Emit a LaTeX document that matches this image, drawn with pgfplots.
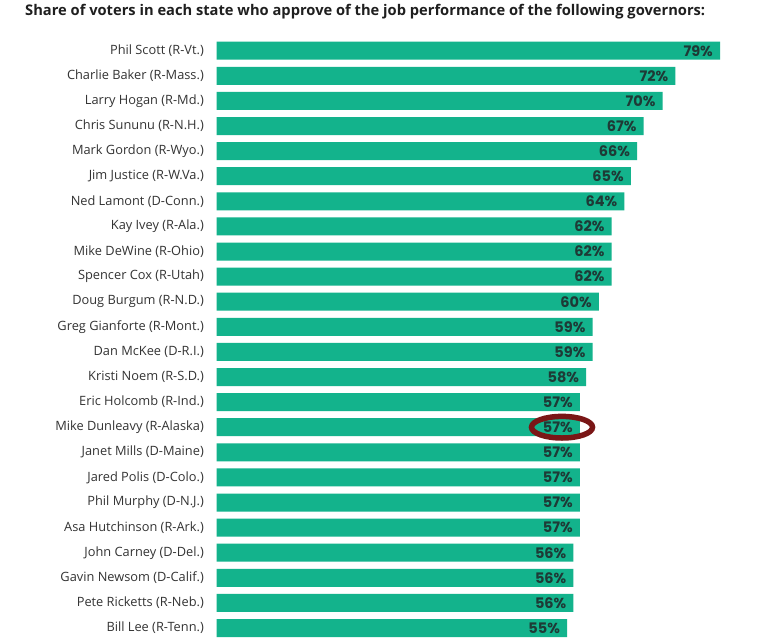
\documentclass[border=0pt]{standalone}
\usepackage{pgfplots}
\pgfplotsset{compat=1.18}
\usepackage{fontspec}
\setmainfont{Open Sans}
\newfontfamily\valfont{Poppins}
\definecolor{barteal}{HTML}{13B38C}
\definecolor{valtext}{HTML}{1E3A36}
\definecolor{labtext}{HTML}{333333}
\definecolor{ringred}{HTML}{7A1616}
\begin{document}
\begin{tikzpicture}
\useasboundingbox[fill=white] (0,0) rectangle (768bp,642bp);
\node[anchor=base west, inner sep=0pt, text=black!88] at (25bp,626bp)
  {\resizebox{680bp}{!}{\fontsize{14bp}{17bp}\selectfont\bfseries Share of voters in each state who approve of the job performance of the following governors:}};
\begin{axis}[
  at={(216.7bp,1.45bp)}, anchor=south west,
  scale only axis, width=509.7bp, height=602.4bp,
  xmin=0, xmax=80, ymin=-0.5, ymax=23.5, y dir=reverse,
  xbar, bar width=18bp, bar shift=0pt,
  axis line style={draw=none}, major tick length=0pt,
  xtick=\empty,
  ytick={0,...,23},
  yticklabels={Phil Scott (R-Vt.),Charlie Baker (R-Mass.),Larry Hogan (R-Md.),Chris Sununu (R-N.H.),Mark Gordon (R-Wyo.),Jim Justice (R-W.Va.),Ned Lamont (D-Conn.),Kay Ivey (R-Ala.),Mike DeWine (R-Ohio),Spencer Cox (R-Utah),Doug Burgum (R-N.D.),Greg Gianforte (R-Mont.),Dan McKee (D-R.I.),Kristi Noem (R-S.D.),Eric Holcomb (R-Ind.),Mike Dunleavy (R-Alaska),Janet Mills (D-Maine),Jared Polis (D-Colo.),Phil Murphy (D-N.J.),Asa Hutchinson (R-Ark.),John Carney (D-Del.),Gavin Newsom (D-Calif.),Pete Ricketts (R-Neb.),Bill Lee (R-Tenn.)},
  yticklabel style={anchor=east, inner sep=0pt, xshift=-12.7bp, font=\fontsize{12.8bp}{14bp}\selectfont, text=labtext},
  /pgf/number format/assume math mode=true,
  nodes near coords={\pgfmathprintnumber{\pgfplotspointmeta}\%},
  point meta=x,
  every node near coord/.append style={anchor=east, inner sep=0pt, xshift=-7bp, font=\valfont\bfseries\fontsize{14.5bp}{15bp}\selectfont, text=valtext},
  clip=false,
]
\addplot[fill=barteal, draw=none] coordinates {
(79,0) (72,1) (70,2) (67,3) (66,4) (65,5) (64,6) (62,7) (62,8) (62,9) (60,10) (59,11) (59,12) (58,13) (57,14) (57,15) (57,16) (57,17) (57,18) (57,19) (56,20) (56,21) (56,22) (55,23)
};
\draw[ringred, line width=5.5bp] (axis cs:54.2,15) ellipse [x radius=30.5bp, y radius=10.8bp];
\end{axis}
\end{tikzpicture}
\end{document}
